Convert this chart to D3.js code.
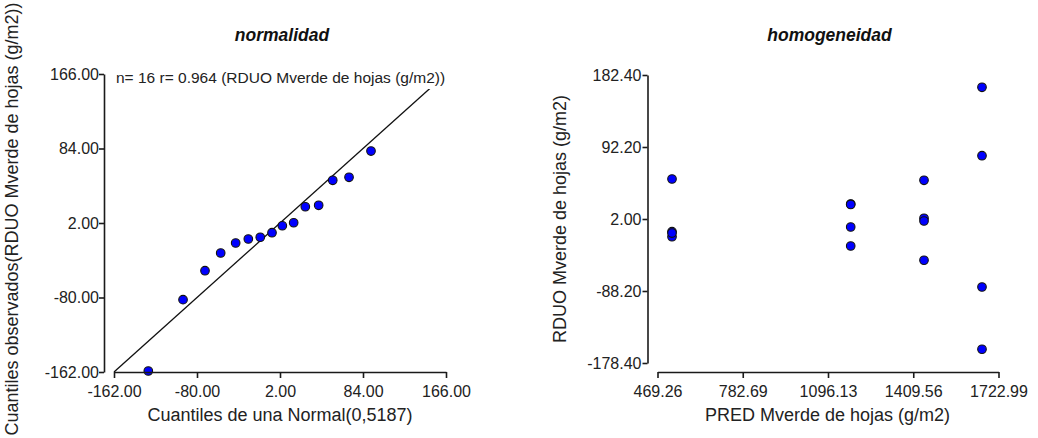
<!DOCTYPE html>
<html>
<head>
<meta charset="utf-8">
<script src="https://cdn.jsdelivr.net/npm/d3@7"></script>
<style>
  html, body { margin: 0; padding: 0; background: #fff; }
  svg { display: block; font-family: "Liberation Sans", Arial, sans-serif; }
</style>
</head>
<body>
<svg id="chart" width="1038" height="438"></svg>
<script>
// ---------- data ----------
// Panel 1: Q-Q plot (normalidad)
const qqTheoretical = [-128.1, -93.8, -72.1, -56.6, -41.8, -29.3, -17.5, -5.9, 4.3, 15.5, 27.0, 40.2, 54.1, 70.2, 91.9, 128.5];
const qqObserved    = [-160.9, -82.4, -50.5, -31.0, -20.0, -15.6, -13.7, -8.7, -1.0, 2.3, 19.9, 21.5, 49.0, 52.3, 81.2, 166.6];
const qqTicks = [-162, -80, 2, 84, 166];
const qqN = 16, qqR = 0.964;

// Panel 2: residuals vs predicted (homogeneidad)
const predValues  = [522.6, 522.6, 522.6, 522.6, 1179.6, 1179.6, 1179.6, 1179.6, 1449.1, 1449.1, 1449.1, 1449.1, 1662.3, 1662.3, 1662.3, 1662.3];
const residValues = [52.1, -13.9, -20.2, -15.6, 20.8, 20.2, -8.0, -31.8, 50.5, 2.9, -0.5, -49.7, 167.0, 81.3, -83.2, -161.2];
const predTicks  = [469.26, 782.69, 1096.13, 1409.56, 1722.99];
const residTicks = [-178.40, -88.20, 2.00, 92.20, 182.40];

// ---------- drawing ----------
const svg = d3.select("#chart");
const fmt = d => d.toFixed(2);
const axisColor = "#1a1a1a";
const textColor = "#222";

function styleAxis(g) {
  g.selectAll("path.domain").attr("stroke", axisColor).attr("stroke-width", 1.6);
  g.selectAll(".tick line").attr("stroke", axisColor).attr("stroke-width", 1.6);
  g.selectAll(".tick text").attr("fill", textColor).attr("font-size", 16)
    .attr("font-family", '"Liberation Sans", Arial, sans-serif');
}

function drawPoints(g, xs, ys, x, y) {
  g.selectAll("circle.pt").data(xs.map((v, i) => [v, ys[i]])).join("circle")
    .attr("class", "pt")
    .attr("cx", d => x(d[0])).attr("cy", d => y(d[1]))
    .attr("r", 4.3)
    .attr("fill", "#0000ff")
    .attr("stroke", "#111").attr("stroke-width", 1.1);
}

// ----- Panel 1 -----
{
  const x = d3.scaleLinear().domain([-162, 166]).range([114, 446]);
  const y = d3.scaleLinear().domain([-162, 166]).range([372, 74]);

  // identity line
  svg.append("line")
    .attr("x1", x(-162)).attr("y1", y(-162))
    .attr("x2", x(166)).attr("y2", y(166))
    .attr("stroke", "#111").attr("stroke-width", 1.3);

  drawPoints(svg.append("g"), qqTheoretical, qqObserved, x, y);

  // annotation with white background
  const ann = svg.append("g");
  ann.append("rect").attr("x", 112).attr("y", 64).attr("width", 336).attr("height", 25).attr("fill", "#fff");
  ann.append("text").attr("x", 116).attr("y", 83)
    .attr("font-size", 15.5).attr("fill", textColor)
    .text(`n= ${qqN} r= ${qqR.toFixed(3)} (RDUO Mverde de hojas (g/m2))`);

  const gy = svg.append("g").attr("transform", "translate(104,0)")
    .call(d3.axisLeft(y).tickValues(qqTicks).tickFormat(fmt).tickSize(5).tickSizeOuter(0).tickPadding(0));
  styleAxis(gy);
  const gx = svg.append("g").attr("transform", "translate(0,372)")
    .call(d3.axisBottom(x).tickValues(qqTicks).tickFormat(fmt).tickSize(6).tickSizeOuter(0).tickPadding(8));
  styleAxis(gx);

  svg.append("text").attr("x", 282).attr("y", 41).attr("text-anchor", "middle")
    .attr("font-size", 17.5).attr("font-weight", "bold").attr("font-style", "italic").attr("fill", "#111")
    .text("normalidad");
  svg.append("text").attr("x", 280).attr("y", 421).attr("text-anchor", "middle")
    .attr("font-size", 18).attr("fill", textColor)
    .text("Cuantiles de una Normal(0,5187)");
  svg.append("text").attr("transform", "translate(18,219) rotate(-90)").attr("text-anchor", "middle")
    .attr("font-size", 18).attr("fill", textColor)
    .text("Cuantiles observados(RDUO Mverde de hojas (g/m2))");
}

// ----- Panel 2 -----
{
  const x = d3.scaleLinear().domain([469.26, 1722.99]).range([657.5, 998.5]);
  const y = d3.scaleLinear().domain([-178.4, 182.4]).range([363, 75]);

  drawPoints(svg.append("g"), predValues, residValues, x, y);

  const gy = svg.append("g").attr("transform", "translate(647.5,0)")
    .call(d3.axisLeft(y).tickValues(residTicks).tickFormat(fmt).tickSize(5).tickSizeOuter(0).tickPadding(1));
  styleAxis(gy);
  const gx = svg.append("g").attr("transform", "translate(0,372)")
    .call(d3.axisBottom(x).tickValues(predTicks).tickFormat(fmt).tickSize(6).tickSizeOuter(0).tickPadding(8));
  styleAxis(gx);

  svg.append("text").attr("x", 829.5).attr("y", 41).attr("text-anchor", "middle")
    .attr("font-size", 17.5).attr("font-weight", "bold").attr("font-style", "italic").attr("fill", "#111")
    .text("homogeneidad");
  svg.append("text").attr("x", 827.5).attr("y", 421).attr("text-anchor", "middle")
    .attr("font-size", 18).attr("fill", textColor)
    .text("PRED Mverde de hojas (g/m2)");
  svg.append("text").attr("transform", "translate(566,219) rotate(-90)").attr("text-anchor", "middle")
    .attr("font-size", 18).attr("fill", textColor)
    .text("RDUO Mverde de hojas (g/m2)");
}
</script>
</body>
</html>
